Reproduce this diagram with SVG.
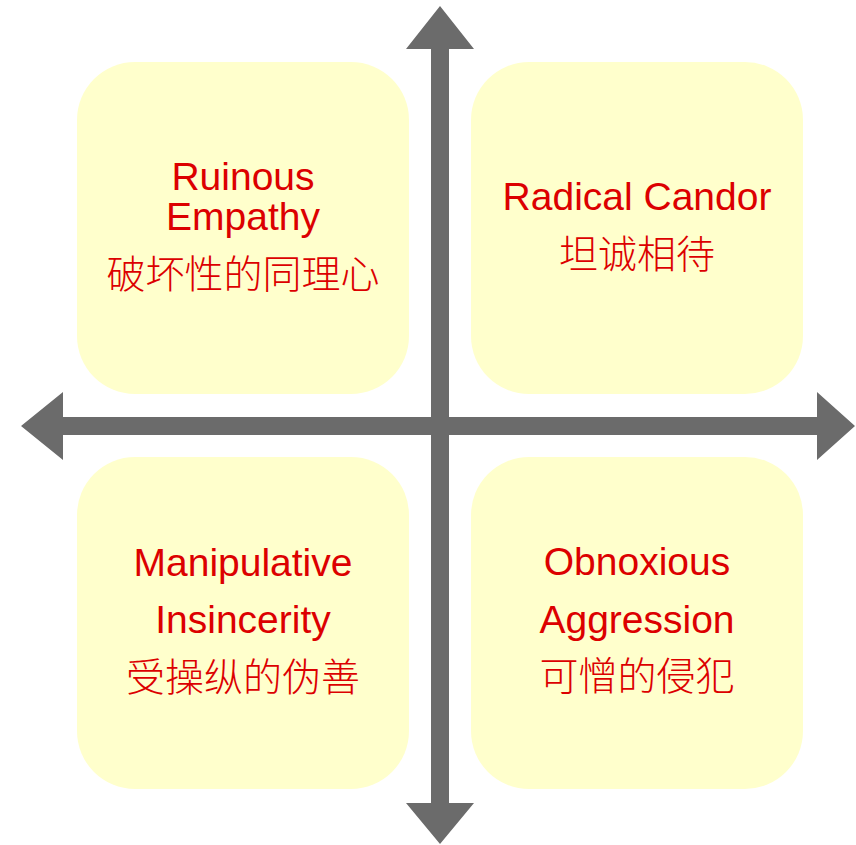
<svg xmlns="http://www.w3.org/2000/svg" width="856" height="845" viewBox="0 0 856 845">
  <style>
    .box { fill: #ffffcc; }
    .en { font-family: "Liberation Sans", Arial, sans-serif; font-size: 39px; fill: #dc0000; text-anchor: middle; }
    .zh { font-family: "Noto Sans CJK SC", sans-serif; font-size: 39px; fill: #dc0000; text-anchor: middle; font-weight: 300; }
    .axis { fill: #6b6b6b; }
  </style>
  <rect width="856" height="845" fill="#ffffff"/>
  <g id="ruinous-empathy">
    <rect class="box" x="77" y="62" width="332" height="332" rx="58" ry="58"/>
    <text class="en" x="243" y="190">Ruinous</text>
    <text class="en" x="243" y="230">Empathy</text>
    <text class="zh" x="243" y="288">破坏性的同理心</text>
  </g>
  <g id="radical-candor">
    <rect class="box" x="471" y="62" width="332" height="332" rx="58" ry="58"/>
    <text class="en" x="637" y="210">Radical Candor</text>
    <text class="zh" x="637" y="268">坦诚相待</text>
  </g>
  <g id="manipulative-insincerity">
    <rect class="box" x="77" y="457" width="332" height="332" rx="58" ry="58"/>
    <text class="en" x="243" y="576">Manipulative</text>
    <text class="en" x="243" y="633">Insincerity</text>
    <text class="zh" x="243" y="691">受操纵的伪善</text>
  </g>
  <g id="obnoxious-aggression">
    <rect class="box" x="471" y="457" width="332" height="332" rx="58" ry="58"/>
    <text class="en" x="637" y="575">Obnoxious</text>
    <text class="en" x="637" y="633">Aggression</text>
    <text class="zh" x="637" y="690">可憎的侵犯</text>
  </g>
  <g id="connectors">
    <polygon class="axis" points="21,426 63,392 63,417 817,417 817,392 855,426 817,460 817,435 63,435 63,460"/>
    <polygon class="axis" points="440,6 474,49 449,49 449,803 474,803 440,844 406,803 431,803 431,49 406,49"/>
  </g>
</svg>
